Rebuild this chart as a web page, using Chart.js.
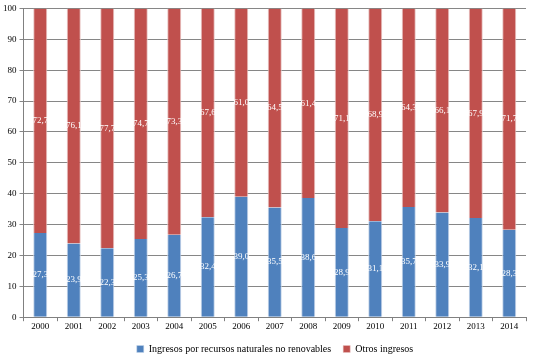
<!DOCTYPE html>
<html>
<head>
<meta charset="utf-8">
<script src="https://cdn.jsdelivr.net/npm/chart.js@4"></script>
<style>
  html, body { margin: 0; padding: 0; background: #fff; }
  #wrap { width: 534px; height: 359px; }
</style>
</head>
<body>
<div id="wrap"><canvas id="ingresosChart" width="534" height="359"></canvas></div>
<script>
const years = ['2000','2001','2002','2003','2004','2005','2006','2007','2008','2009','2010','2011','2012','2013','2014'];
const naturalesNoRenovables = [27.3, 23.9, 22.3, 25.3, 26.7, 32.4, 39.0, 35.5, 38.6, 28.9, 31.1, 35.7, 33.9, 32.1, 28.3];
const otrosIngresos = [72.7, 76.1, 77.7, 74.7, 73.3, 67.6, 61.0, 64.5, 61.4, 71.1, 68.9, 64.3, 66.1, 67.9, 71.7];
const yTicks = [0, 10, 20, 30, 40, 50, 60, 70, 80, 90, 100];

const serif = "'Liberation Serif'";

// etiquetas blancas en el centro de cada segmento
const segmentLabels = {
    id: 'segmentLabels',
    afterLayout(chart) {
        // la leyenda del original está un poco corrida a la derecha
        chart.legend.left += 12;
        chart.legend.right += 12;
    },
    afterDatasetsDraw(chart) {
        const ctx = chart.ctx;
        ctx.save();
        ctx.fillStyle = '#ffffff';
        ctx.font = '9px ' + serif;
        ctx.textAlign = 'center';
        ctx.textBaseline = 'middle';
        chart.data.datasets.forEach((ds, i) => {
            const meta = chart.getDatasetMeta(i);
            meta.data.forEach((bar, j) => {
                const p = bar.getProps(['x', 'y', 'base'], true);
                const txt = ds.data[j].toFixed(1).replace('.', ',');
                ctx.fillText(txt, p.x, (p.y + p.base) / 2);
            });
        });
        ctx.restore();
    }
};

const ctx = document.getElementById('ingresosChart').getContext('2d');
new Chart(ctx, {
    type: 'bar',
    data: {
        labels: years,
        datasets: [
            {
                label: 'Ingresos por recursos naturales no renovables',
                data: naturalesNoRenovables,
                backgroundColor: '#4F81BD',
                borderColor: '#C6D6EA',
                borderWidth: { left: 1, right: 1, top: 0, bottom: 0 },
                categoryPercentage: 1,
                barPercentage: 0.42
            },
            {
                label: 'Otros ingresos',
                data: otrosIngresos,
                backgroundColor: '#C0504D',
                borderColor: '#E9C5C4',
                borderWidth: { left: 1, right: 1, top: 0, bottom: 0 },
                categoryPercentage: 1,
                barPercentage: 0.42
            }
        ]
    },
    options: {
        responsive: false,
        animation: false,
        layout: { padding: { left: 0, right: 8, top: 3, bottom: -5 } },
        plugins: {
            legend: {
                position: 'bottom',
                labels: {
                    boxWidth: 7,
                    boxHeight: 7,
                    color: '#000',
                    padding: 12,
                    font: { family: serif, size: 10 }
                }
            },
            tooltip: { enabled: false }
        },
        scales: {
            x: {
                stacked: true,
                ticks: {
                    color: '#000',
                    font: { family: serif, size: 9 },
                    padding: 0,
                    maxRotation: 0
                },
                grid: {
                    drawOnChartArea: false,
                    color: '#808080',
                    tickLength: 4,
                    offset: true
                },
                border: { color: '#808080' }
            },
            y: {
                stacked: true,
                min: 0,
                max: 100,
                afterBuildTicks(axis) {
                    axis.ticks = yTicks.map(v => ({ value: v }));
                },
                ticks: {
                    color: '#000',
                    font: { family: serif, size: 9 },
                    padding: 3
                },
                grid: {
                    color: '#868686',
                    tickLength: 4
                },
                border: { color: '#808080' }
            }
        }
    },
    plugins: [segmentLabels]
});
</script>
</body>
</html>
